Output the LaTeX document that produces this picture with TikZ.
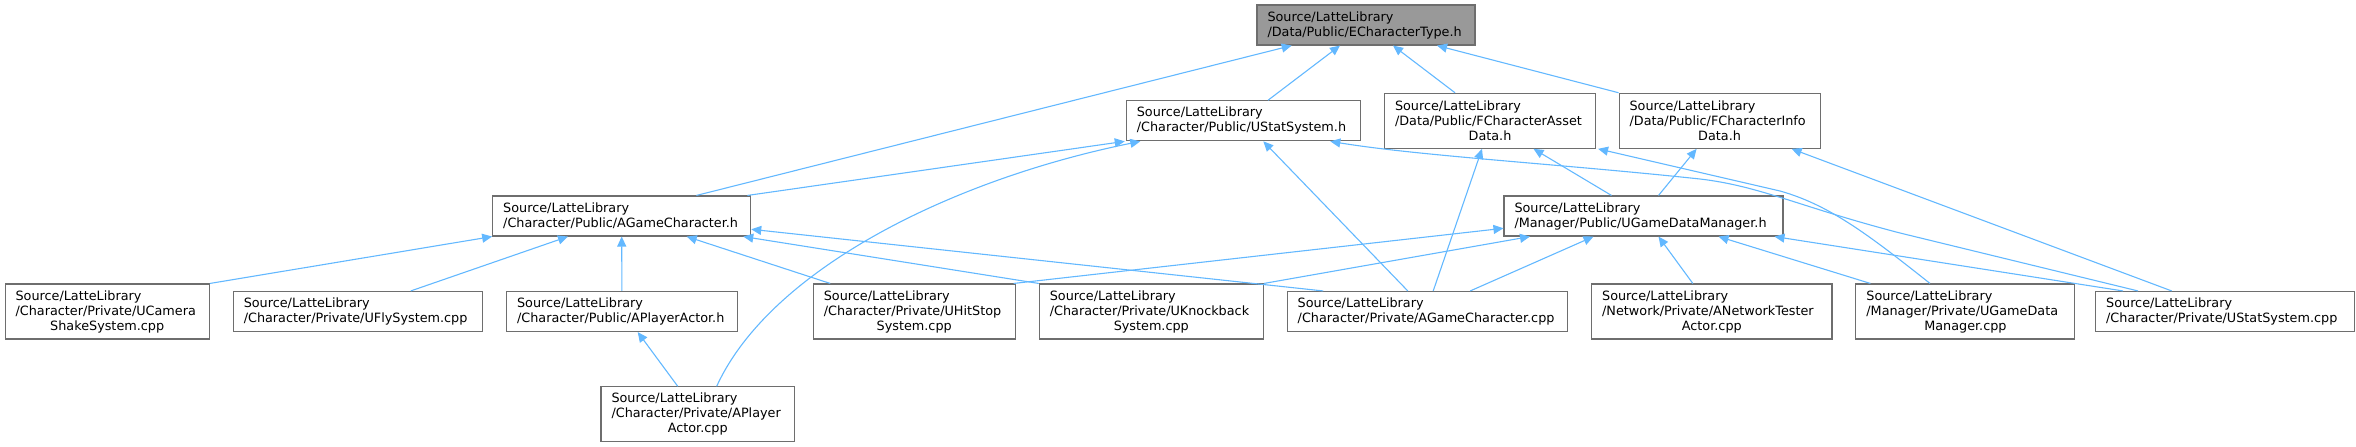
\documentclass[tikz,border=0pt]{standalone}
\usepackage{fontspec}
\setmainfont{DejaVu Sans}
\usetikzlibrary{arrows.meta}
\definecolor{edgeblue}{HTML}{63B8FF}
\definecolor{boxline}{HTML}{6E6E6E}
\definecolor{rootfill}{HTML}{999999}
\tikzset{
  filebox/.style={draw=boxline, fill=white, line width=1.1pt, rectangle,
    inner xsep=10.5pt, inner ysep=2pt, align=left,
    font=\fontsize{12.8}{15}\selectfont, anchor=center},
  rootbox/.style={filebox, fill=rootfill},
  dep/.style={draw=edgeblue, line width=1.1pt, -{Triangle[length=10pt,width=9pt]}}
}
\newcommand{\lastline}[1]{\makebox[\linewidth][c]{#1}}
\begin{document}
\begin{tikzpicture}[x=1pt,y=-1pt]
\useasboundingbox (0,0) rectangle (2356,447);
% row 0
\node[rootbox, text width=197pt, minimum width=218pt, minimum height=40pt] (ECT) at (1366,25)
  {Source/LatteLibrary\\/Data/Public/ECharacterType.h};
% row 1
\node[filebox, text width=213pt, minimum width=234pt, minimum height=40pt] (USSh) at (1243.3,120.8)
  {Source/LatteLibrary\\/Character/Public/UStatSystem.h};
\node[filebox, text width=190pt, minimum width=211pt, minimum height=55pt] (FCAD) at (1490,120.8)
  {Source/LatteLibrary\\/Data/Public/FCharacterAsset\\\lastline{Data.h}};
\node[filebox, text width=180pt, minimum width=201pt, minimum height=55pt] (FCID) at (1719.6,120.8)
  {Source/LatteLibrary\\/Data/Public/FCharacterInfo\\\lastline{Data.h}};
% row 2
\node[filebox, text width=237pt, minimum width=258pt, minimum height=40pt] (AGCh) at (621.7,216)
  {Source/LatteLibrary\\/Character/Public/AGameCharacter.h};
\node[filebox, text width=258pt, minimum width=279pt, minimum height=40pt] (UGDM) at (1643.5,216)
  {Source/LatteLibrary\\/Manager/Public/UGameDataManager.h};
% row 3
\node[filebox, text width=183.3pt, minimum width=204.3pt, minimum height=55pt] (UCam) at (107.2,311.5)
  {Source/LatteLibrary\\/Character/Private/UCamera\\\lastline{ShakeSystem.cpp}};
\node[filebox, text width=228.5pt, minimum width=249.5pt, minimum height=40pt] (UFly) at (358,311.5)
  {Source/LatteLibrary\\/Character/Private/UFlySystem.cpp};
\node[filebox, text width=209.6pt, minimum width=230.6pt, minimum height=40pt] (APAh) at (621.9,311.5)
  {Source/LatteLibrary\\/Character/Public/APlayerActor.h};
\node[filebox, text width=180.7pt, minimum width=201.7pt, minimum height=55pt] (UHit) at (914.2,311.5)
  {Source/LatteLibrary\\/Character/Private/UHitStop\\\lastline{System.cpp}};
\node[filebox, text width=203pt, minimum width=224pt, minimum height=55pt] (UKnock) at (1151.3,311.5)
  {Source/LatteLibrary\\/Character/Private/UKnockback\\\lastline{System.cpp}};
\node[filebox, text width=259pt, minimum width=280pt, minimum height=40pt] (AGCcpp) at (1427.2,311.5)
  {Source/LatteLibrary\\/Character/Private/AGameCharacter.cpp};
\node[filebox, text width=219.3pt, minimum width=240.3pt, minimum height=55pt] (ANet) at (1711.8,311.5)
  {Source/LatteLibrary\\/Network/Private/ANetworkTester\\\lastline{Actor.cpp}};
\node[filebox, text width=198pt, minimum width=219pt, minimum height=55pt] (UGDMcpp) at (1965.4,311.5)
  {Source/LatteLibrary\\/Manager/Private/UGameData\\\lastline{Manager.cpp}};
\node[filebox, text width=237.7pt, minimum width=258.7pt, minimum height=40pt] (USScpp) at (2225,311.5)
  {Source/LatteLibrary\\/Character/Private/UStatSystem.cpp};
% row 4
\node[filebox, text width=172.4pt, minimum width=193.4pt, minimum height=55pt] (APAcpp) at (697.7,414.3)
  {Source/LatteLibrary\\/Character/Private/APlayer\\\lastline{Actor.cpp}};

% edges to ECharacterType.h
\draw[dep] ([xshift=74.7pt]AGCh.north) -- ([xshift=-74.3pt]ECT.south);
\draw[dep] ([xshift=24.7pt]USSh.north) -- ([xshift=-26pt]ECT.south);
\draw[dep] ([xshift=-35pt]FCAD.north) -- ([xshift=27pt]ECT.south);
\draw[dep] (FCID.north west) -- ([xshift=71pt]ECT.south);
% edges to UStatSystem.h
\draw[dep] ([xshift=125.7pt]AGCh.north) -- ([xshift=-1pt]USSh.south west);
\draw[dep] ([xshift=19pt]APAcpp.north) .. controls (770,270) and (950,180) .. ([xshift=-103pt]USSh.south);
\draw[dep] ([xshift=-19.4pt]AGCcpp.north) -- ([xshift=20pt]USSh.south);
\draw[dep] ([xshift=-87pt]USScpp.north) -- (1900,233) .. controls (1800,207) and (1760,186) .. (1700,179)
  .. controls (1560,164) and (1420,156) .. ([xshift=87pt]USSh.south);
% edges to AGameCharacter.h
\draw[dep] (UCam.north east) -- (AGCh.south west);
\draw[dep] ([xshift=52.7pt]UFly.north) -- ([xshift=-53.7pt]AGCh.south);
\draw[dep] (APAh.north) -- (AGCh.south);
\draw[dep] ([xshift=-84pt]UHit.north) -- ([xshift=65pt]AGCh.south);
\draw[dep] (UKnock.north west) -- ([xshift=-8pt]AGCh.south east);
\draw[dep] ([xshift=-104pt]AGCcpp.north) -- ([yshift=-13.3pt]AGCh.east);
% APlayerActor.h
\draw[dep] ([xshift=-20pt]APAcpp.north) -- ([xshift=15.8pt]APAh.south);
% edges to UGameDataManager.h
\draw[dep] ([xshift=-2pt]UHit.north east) -- ([yshift=-12.3pt]UGDM.west);
\draw[dep] (UKnock.north east) -- ([xshift=-113.5pt]UGDM.south);
\draw[dep] ([xshift=43pt]AGCcpp.north) -- ([xshift=-50pt]UGDM.south);
\draw[dep] ([xshift=-19pt]ANet.north) -- ([xshift=15pt]UGDM.south);
\draw[dep] ([xshift=-95pt]UGDMcpp.north) -- ([xshift=75pt]UGDM.south);
\draw[dep] ([xshift=-102pt]USScpp.north) -- ([xshift=131pt]UGDM.south);
% edges to FCharacterAssetData.h
\draw[dep] ([xshift=6pt]AGCcpp.north) -- ([xshift=-8pt]FCAD.south);
\draw[dep] ([xshift=-32pt]UGDM.north) -- ([xshift=43.5pt]FCAD.south);
\draw[dep] ([xshift=-35.4pt]UGDMcpp.north) .. controls (1870,236) and (1830,205) .. (1780,191) -- ([xshift=2pt]FCAD.south east);
% edges to FCharacterInfoData.h
\draw[dep] ([xshift=15pt]UGDM.north) -- ([xshift=-23pt]FCID.south);
\draw[dep] ([xshift=-53.3pt]USScpp.north) -- ([xshift=72pt]FCID.south);
\end{tikzpicture}
\end{document}
